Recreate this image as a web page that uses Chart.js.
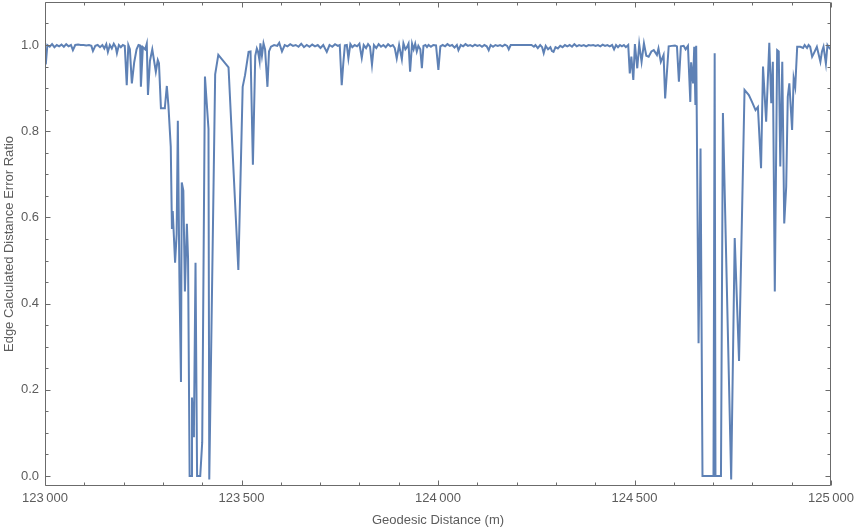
<!DOCTYPE html>
<html>
<head>
<meta charset="utf-8">
<script src="https://cdn.jsdelivr.net/npm/chart.js@4.4.0/dist/chart.umd.min.js"></script>
<style>
  html, body { margin: 0; padding: 0; background: #fff; }
  #wrap { width: 854px; height: 528px; }
</style>
</head>
<body>
<div id="wrap"><canvas id="chart" width="854" height="528"></canvas></div>
<script>
// geodesic distance along the edge (m)
const distances = [
  123002, 123006, 123012, 123018, 123024, 123030, 123036, 123042, 123048, 123054,
  123060, 123066, 123071, 123077, 123084, 123091, 123098, 123105, 123112, 123118,
  123122, 123128, 123134, 123140, 123146, 123151, 123156, 123160, 123165, 123170,
  123175, 123180, 123183, 123188, 123193, 123198, 123203, 123208, 123212, 123216,
  123221, 123227, 123233, 123238, 123242, 123244, 123249, 123255, 123259, 123262,
  123267, 123273, 123282, 123287, 123290, 123295, 123303, 123305, 123310, 123314,
  123320, 123323, 123325, 123331, 123335, 123338, 123342, 123346, 123348, 123352,
  123356, 123361, 123364, 123368, 123372, 123374, 123378, 123379, 123383, 123387,
  123395, 123400, 123407, 123416, 123418, 123433, 123441, 123467, 123492, 123503,
  123509, 123518, 123523, 123529, 123535, 123539, 123542, 123546, 123548, 123552,
  123556, 123560, 123566, 123570, 123575, 123583, 123591, 123596, 123603, 123610,
  123617, 123624, 123631, 123638, 123645, 123652, 123659, 123666, 123673, 123680,
  123687, 123694, 123701, 123708, 123717, 123724, 123731, 123738, 123745, 123750,
  123755, 123759, 123763, 123768, 123772, 123777, 123782, 123788, 123794, 123800,
  123806, 123811, 123817, 123822, 123827, 123832, 123837, 123843, 123849, 123855,
  123861, 123867, 123873, 123879, 123885, 123890, 123895, 123901, 123908, 123912,
  123917, 123921, 123925, 123929, 123934, 123938, 123942, 123946, 123950, 123955,
  123959, 123963, 123968, 123972, 123976, 123982, 123988, 123995, 124001, 124006,
  124012, 124018, 124024, 124030, 124036, 124042, 124048, 124052, 124058, 124064,
  124070, 124076, 124082, 124088, 124094, 124100, 124106, 124112, 124118, 124124,
  124129, 124134, 124140, 124146, 124152, 124158, 124164, 124170, 124176, 124180,
  124185, 124192, 124200, 124210, 124220, 124230, 124238, 124244, 124248, 124254,
  124260, 124265, 124269, 124274, 124280, 124286, 124290, 124294, 124299, 124305,
  124311, 124317, 124323, 124329, 124335, 124341, 124347, 124353, 124359, 124365,
  124371, 124377, 124383, 124389, 124395, 124401, 124407, 124413, 124419, 124425,
  124431, 124437, 124443, 124448, 124453, 124458, 124463, 124468, 124473, 124478,
  124484, 124488, 124492, 124497, 124501, 124507, 124512, 124518, 124524, 124530,
  124536, 124543, 124549, 124557, 124561, 124567, 124574, 124578, 124587, 124595,
  124603, 124608, 124613, 124618, 124625, 124630, 124636, 124642, 124644, 124649,
  124652, 124655, 124657, 124663, 124666, 124668, 124673, 124701, 124704, 124706,
  124720, 124725, 124746, 124755, 124766, 124780, 124791, 124799, 124808, 124814,
  124822, 124827, 124835, 124843, 124848, 124852, 124857, 124863, 124867, 124871,
  124876, 124881, 124886, 124890, 124894, 124901, 124905, 124909, 124914, 124922,
  124929, 124933, 124939, 124943, 124947, 124952, 124956, 124964, 124973, 124977,
  124981, 124987, 124991, 124998
];
// edge calculated distance error ratio
const ratios = [
  0.955, 1.000, 0.996, 1.002, 0.995, 1.000, 0.997, 1.001, 0.996, 1.002,
  0.997, 1.000, 0.988, 1.000, 1.001, 1.000, 1.000, 0.999, 1.000, 0.998,
  0.986, 0.998, 1.000, 0.995, 1.000, 0.992, 1.002, 0.984, 1.000, 0.992,
  1.003, 0.995, 0.981, 1.000, 0.995, 1.000, 0.998, 0.907, 1.000, 0.990,
  0.911, 0.960, 0.990, 1.000, 0.999, 0.903, 0.995, 0.990, 1.003, 0.884,
  0.963, 0.990, 0.938, 0.965, 0.958, 0.853, 0.853, 0.855, 0.905, 0.860,
  0.764, 0.573, 0.615, 0.495, 0.561, 0.824, 0.462, 0.218, 0.681, 0.662,
  0.428, 0.585, 0.505, 0.000, 0.000, 0.182, 0.092, 0.110, 0.495, 0.000,
  0.000, 0.078, 0.927, 0.805, -0.008, 0.932, 0.977, 0.948, 0.478, 0.903,
  0.930, 0.984, 0.985, 0.722, 0.975, 0.992, 0.985, 0.963, 1.004, 0.975,
  1.004, 0.990, 0.903, 0.985, 0.996, 1.000, 0.998, 1.005, 0.985, 1.000,
  0.997, 1.002, 0.998, 1.000, 0.996, 1.003, 0.995, 1.000, 0.996, 1.001,
  0.997, 1.000, 0.993, 1.000, 0.984, 1.000, 0.996, 1.002, 0.998, 1.000,
  0.907, 0.957, 0.999, 1.000, 0.969, 1.002, 0.995, 1.000, 0.997, 1.003,
  0.970, 1.000, 0.993, 1.002, 0.996, 0.954, 1.000, 0.993, 1.002, 0.996,
  1.000, 0.995, 1.002, 0.997, 1.000, 0.993, 0.969, 1.000, 0.967, 1.004,
  0.990, 0.995, 1.003, 0.938, 1.003, 0.990, 1.003, 0.985, 0.998, 0.990,
  0.946, 0.998, 1.000, 0.995, 1.000, 0.996, 1.000, 0.999, 0.942, 0.997,
  1.000, 0.997, 1.002, 0.998, 1.000, 0.994, 1.000, 0.988, 1.000, 0.997,
  1.002, 0.998, 1.000, 0.997, 1.001, 0.998, 1.000, 0.996, 1.000, 0.997,
  0.988, 1.000, 0.996, 1.000, 0.998, 1.000, 0.997, 1.001, 0.998, 0.990,
  1.000, 1.000, 1.000, 1.000, 1.000, 1.000, 1.000, 0.996, 1.000, 0.993,
  1.000, 0.995, 0.981, 0.998, 0.990, 0.995, 0.986, 0.984, 0.995, 0.992,
  0.998, 0.995, 1.000, 0.997, 1.000, 0.996, 1.002, 0.997, 1.000, 0.998,
  1.000, 0.997, 1.000, 0.999, 1.000, 0.998, 1.000, 0.997, 1.001, 0.998,
  1.000, 0.997, 1.000, 0.990, 1.000, 0.995, 1.000, 0.997, 1.000, 0.995,
  1.000, 0.934, 0.973, 0.919, 1.002, 0.946, 1.002, 0.961, 1.004, 0.975,
  0.973, 0.985, 0.988, 0.977, 0.992, 0.961, 0.977, 0.876, 0.997, 0.998,
  0.999, 0.997, 0.915, 0.997, 0.998, 0.990, 0.998, 0.868, 0.960, 0.911,
  0.996, 0.861, 0.998, 0.308, 0.548, 0.760, 0.000, 0.000, 0.981, 0.000,
  0.000, 0.842, -0.008, 0.552, 0.267, 0.896, 0.884, 0.868, 0.849, 0.856,
  0.714, 0.950, 0.822, 1.005, 0.865, 0.961, 0.428, 0.988, 0.985, 0.718,
  0.961, 0.586, 0.671, 0.880, 0.911, 0.803, 0.923, 0.903, 0.996, 0.996,
  0.993, 1.000, 0.993, 1.000, 0.996, 0.973, 0.980, 0.996, 0.961, 0.985,
  0.996, 0.957, 1.000, 0.990
];

const xTicks = [123000, 123500, 124000, 124500, 125000];
const yTicks = [0, 0.2, 0.4, 0.6, 0.8, 1.0];
const xMinorTicks = [123100, 123200, 123300, 123400, 123600, 123700, 123800, 123900,
  124100, 124200, 124300, 124400, 124600, 124700, 124800, 124900];
const yMinorTicks = [0.05, 0.1, 0.15, 0.25, 0.3, 0.35, 0.45, 0.5, 0.55, 0.65, 0.7, 0.75,
  0.85, 0.9, 0.95, 1.05];

const frameColor = '#6b6b6b';
const textColor = '#5c5c5c';
const lineColor = '#5e81b5';

function fmtDist(v) {
  return Math.floor(v / 1000) + '\u2009' + String(v % 1000).padStart(3, '0');
}

// mathematica style frame, ticks point inwards on all four sides
const framePlugin = {
  id: 'frame',
  afterDatasetsDraw(chart) {
    const { ctx, chartArea: a, scales: { x, y } } = chart;
    ctx.save();
    ctx.strokeStyle = frameColor;
    ctx.lineWidth = 1;
    ctx.beginPath();
    const L = Math.round(a.left) + 0.5, R = Math.round(a.right) - 0.5;
    const T = Math.round(a.top) + 0.5, B = Math.round(a.bottom) - 0.5;
    ctx.rect(L, T, R - L, B - T);
    const xt = (v, len) => {
      const p = Math.round(x.getPixelForValue(v)) + 0.5;
      ctx.moveTo(p, B); ctx.lineTo(p, B - len);
      ctx.moveTo(p, T); ctx.lineTo(p, T + len);
    };
    const yt = (v, len) => {
      const p = Math.round(y.getPixelForValue(v)) + 0.5;
      ctx.moveTo(L, p); ctx.lineTo(L + len, p);
      ctx.moveTo(R, p); ctx.lineTo(R - len, p);
    };
    xTicks.forEach(v => xt(v, 5));
    xMinorTicks.forEach(v => xt(v, 3));
    yTicks.forEach(v => yt(v, 5));
    yMinorTicks.forEach(v => yt(v, 3));
    ctx.stroke();
    ctx.restore();
  }
};

const points = distances.map((d, i) => ({ x: d, y: ratios[i] }));

new Chart(document.getElementById('chart'), {
  type: 'line',
  data: {
    datasets: [{
      data: points,
      borderColor: lineColor,
      borderWidth: 2,
      pointRadius: 0,
      tension: 0,
      fill: false
    }]
  },
  options: {
    responsive: false,
    animation: false,
    devicePixelRatio: 1,
    layout: { padding: { left: 0, right: 23, top: 2, bottom: 0 } },
    plugins: { legend: { display: false }, tooltip: { enabled: false } },
    scales: {
      x: {
        type: 'linear',
        min: 123000,
        max: 125000,
        grid: { display: false, drawTicks: false },
        border: { display: false },
        afterBuildTicks: s => { s.ticks = xTicks.map(v => ({ value: v })); },
        afterFit: s => { s.height = 42; s.paddingLeft = 0; s.paddingRight = 0; },
        ticks: {
          color: textColor,
          padding: 5,
          maxRotation: 0,
          font: { family: 'Liberation Sans, Arial, sans-serif', size: 13 },
          callback: v => fmtDist(v)
        },
        title: {
          display: true,
          text: 'Geodesic Distance (m)',
          color: textColor,
          padding: { top: 0, bottom: 0 },
          font: { family: 'Liberation Sans, Arial, sans-serif', size: 13 }
        }
      },
      y: {
        min: -0.0232,
        max: 1.0998,
        grid: { display: false, drawTicks: false },
        border: { display: false },
        afterBuildTicks: s => { s.ticks = yTicks.map(v => ({ value: v })); },
        afterFit: s => { s.width = 45; s.paddingTop = 0; s.paddingBottom = 0; },
        ticks: {
          color: textColor,
          padding: 6,
          font: { family: 'Liberation Sans, Arial, sans-serif', size: 13 },
          callback: v => v.toFixed(1)
        },
        title: {
          display: true,
          text: 'Edge Calculated Distance Error Ratio',
          color: textColor,
          padding: { top: 2, bottom: 0 },
          font: { family: 'Liberation Sans, Arial, sans-serif', size: 13 }
        }
      }
    }
  },
  plugins: [framePlugin]
});
</script>
</body>
</html>
